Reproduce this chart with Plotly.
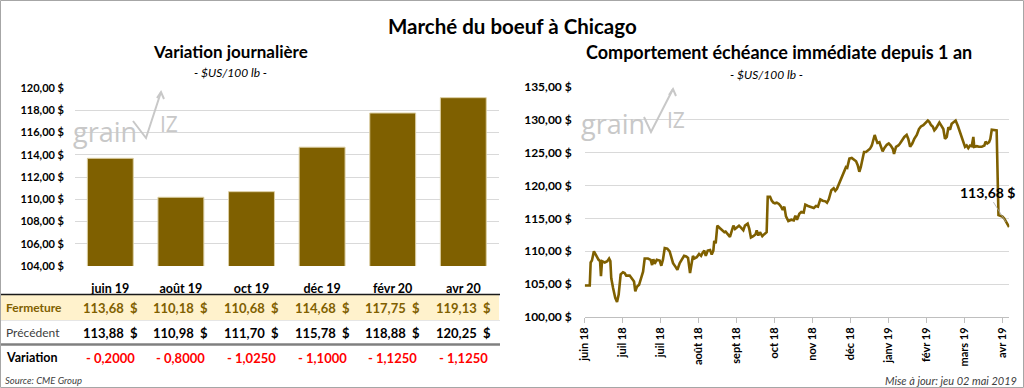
import plotly.graph_objects as go

W, H = 1024, 388
FONT = "Lato"
GOLD = "#7F6000"

# ---------------- data: left chart / table ----------------
months = ["juin 19", "août 19", "oct 19", "déc 19", "févr 20", "avr 20"]
fermeture = [113.68, 110.18, 110.68, 114.68, 117.75, 119.13]
precedent = [113.88, 110.98, 111.70, 115.78, 118.88, 120.25]
variation = [-0.2000, -0.8000, -1.0250, -1.1000, -1.1250, -1.1250]
left_yticks = [104, 106, 108, 110, 112, 114, 116, 118, 120]

# ---------------- data: right chart (trading-day index, price) ----------------
session = [0, 2.8, 3.3, 4.0, 5.1, 6.4, 7.7, 8.5, 9.0, 9.6, 11.1, 12.5, 13.5, 14.2, 14.7, 15.7,
           16.9, 17.9, 18.8, 19.9, 21.2, 22.1, 23.0, 24.9, 26.2, 27.3, 28.0, 28.9, 30.1, 31.3,
           32.3, 33.2, 35.0, 36.5, 37.3, 38.0, 38.7, 39.9, 41.5, 42.4, 43.3, 44.3, 45.7, 47.0,
           47.9, 48.9, 50.1, 51.3, 52.6, 53.9, 55.0, 56.2, 57.2, 58.3, 59.4, 59.9, 60.7, 62.0,
           63.3, 64.4, 65.3, 66.2, 67.0, 68.1, 69.4, 70.3, 71.2, 71.7, 72.5, 73.4, 74.9, 76.2,
           77.3, 78.0, 79.2, 80.4, 81.4, 82.3, 83.2, 84.3, 85.4, 86.5, 87.8, 88.7, 90.2, 91.1,
           92.0, 93.3, 94.6, 95.2, 96.1, 97.0, 98.3, 99.4, 100.7, 101.3, 102.6, 103.5, 104.4,
           105.3, 106.3, 107.5, 108.7, 109.6, 110.5, 111.4, 112.7, 114.4, 115.7, 116.6, 117.5,
           118.8, 119.9, 121.2, 122.1, 123.6, 124.9, 126.8, 128.0, 129.1, 130.4, 131.7, 133.2,
           134.1, 135.1, 136.5, 137.8, 138.7, 139.6, 140.9, 142.2, 143.5, 144.6, 145.3, 146.5,
           147.8, 149.1, 150.2, 151.1, 152.0, 152.8, 153.9, 154.6, 155.7, 157.0, 157.9, 158.9,
           159.7, 160.5, 161.2, 162.0, 163.1, 164.0, 164.9, 165.8, 167.2, 168.3, 169.4, 170.5,
           171.2, 172.3, 173.6, 174.5, 175.8, 176.9, 178.2, 179.1, 180.1, 181.3, 182.4, 183.8,
           185.0, 186.1, 187.4, 188.7, 189.9, 190.7, 191.7, 192.6, 193.5, 194.4, 195.4, 196.3,
           197.2, 198.5, 199.4, 200.4, 201.3, 202.2, 203.1, 204.2, 205.3, 206.5, 207.7, 208.7,
           209.6, 210.5, 211.4, 212.3, 213.3, 214.2, 215.1, 215.6, 217.0, 218.2, 219.7, 221.2,
           221.9, 222.8, 223.8, 224.5, 225.3, 226.7, 228.0, 229.0, 231.1, 232.2, 233.6, 234.9]
price = [104.8, 104.8, 108.3, 108.6, 110.0, 109.3, 108.7, 108.5, 106.2, 108.5, 108.3, 108.5, 108.9,
         108.5, 105.9, 104.4, 102.9, 102.3, 103.4, 106.5, 106.8, 106.7, 106.3, 106.3, 105.9,
         105.4, 103.9, 104.6, 104.9, 105.9, 106.9, 108.9, 108.9, 108.7, 107.9, 108.8, 108.1,
         108.7, 108.6, 107.8, 108.7, 110.5, 110.4, 110.0, 109.2, 108.2, 107.7, 107.2, 108.2,
         108.7, 109.3, 109.2, 109.0, 106.7, 108.6, 109.3, 108.9, 109.1, 109.6, 109.3, 109.8,
         110.1, 109.3, 110.1, 110.2, 109.5, 110.1, 111.6, 111.2, 113.9, 113.5, 113.2, 112.9,
         113.0, 112.6, 112.2, 113.1, 113.9, 113.4, 113.7, 113.9, 113.6, 113.2, 113.9, 114.2,
         113.4, 112.1, 112.3, 112.6, 113.2, 112.4, 112.9, 112.3, 112.6, 112.9, 118.3, 118.3,
         117.7, 117.4, 117.3, 117.4, 117.2, 116.8, 116.3, 116.8, 115.3, 114.6, 114.8, 114.7,
         115.4, 114.8, 115.7, 116.0, 115.9, 117.1, 116.9, 116.8, 116.6, 116.9, 116.8, 117.9,
         117.7, 117.6, 117.4, 117.9, 119.3, 119.6, 119.2, 119.5, 120.4, 121.3, 122.3, 122.8,
         122.7, 124.1, 124.2, 124.0, 123.7, 123.1, 122.1, 122.8, 124.2, 125.1, 125.1, 125.4,
         125.6, 126.1, 127.1, 127.7, 127.1, 126.5, 126.6, 125.9, 125.2, 125.7, 126.2, 126.4,
         126.1, 125.6, 124.8, 125.9, 126.1, 126.4, 126.9, 127.4, 127.7, 127.1, 125.9, 126.4,
         127.1, 127.7, 128.6, 129.0, 129.2, 129.6, 129.9, 129.7, 129.2, 129.0, 128.4, 128.7,
         129.2, 129.6, 129.2, 128.6, 127.1, 127.4, 128.9, 128.5, 129.4, 129.7, 129.9, 129.1,
         128.1, 127.2, 126.4, 125.9, 126.1, 125.7, 126.1, 126.0, 127.4, 125.9, 126.0, 125.9,
         125.9, 126.1, 126.7, 126.4, 126.6, 127.1, 128.5, 128.5, 128.4, 115.5, 115.3, 115.0,
         114.4, 113.68]
x_tick_labels = ["juin 18", "juil 18", "juil 18", "août 18", "sept 18", "oct 18",
                 "nov 18", "déc 18", "janv 19", "févr 19", "mars 19", "avr 19"]
x_tick_step = 21
right_yticks = [100, 105, 110, 115, 120, 125, 130, 135]


def px(x):
    return x / W


def py(y):
    return 1 - y / H


def money(v):
    return f"{v:.2f}".replace(".", ",") + " $"


def money_tbl(v):
    return f"{v:.2f}".replace(".", ",") + "\u00a0\u00a0$"


def var_fmt(v):
    sign = "- " if v < 0 else "+ "
    return sign + f"{abs(v):.4f}".replace(".", ",")


fig = go.Figure()

fig.add_trace(go.Bar(
    x=months, y=fermeture, xaxis="x", yaxis="y",
    marker=dict(color=GOLD, line=dict(color="#dccfa3", width=1)),
    hoverinfo="skip", showlegend=False))

fig.add_trace(go.Scatter(
    x=session, y=price, xaxis="x2", yaxis="y2", mode="lines",
    line=dict(color=GOLD, width=2.6), hoverinfo="skip", showlegend=False))

ann = []
shapes = []


def text(x, y, s, size, bold=False, italic=False, color="black", xanchor="center",
         xref="paper", yref="paper", family=FONT):
    ann.append(dict(x=x, y=y, xref=xref, yref=yref, text=s, showarrow=False,
                    xanchor=xanchor, yanchor="middle",
                    font=dict(family=family, size=size, color=color,
                              weight="bold" if bold else "normal",
                              style="italic" if italic else "normal")))


# titles
text(px(512), py(26), "Marché du boeuf à Chicago", 20.5, bold=True)
text(px(230), py(52), "Variation journalière", 17, bold=True)
text(px(230), py(72), "- $US/100 lb -", 12, italic=True)
text(px(779), py(52), "Comportement échéance immédiate depuis 1 an", 18, bold=True)
text(px(766), py(74), "- $US/100 lb -", 12, italic=True)

# table
shapes.append(dict(type="rect", xref="paper", yref="paper", x0=px(1), x1=px(499),
                   y0=py(320), y1=py(295), fillcolor="#FFF2CC", line=dict(width=0), layer="below"))
shapes.append(dict(type="line", xref="paper", yref="paper", x0=px(1), x1=px(500),
                   y0=py(294.5), y1=py(294.5), line=dict(color="#1a1a1a", width=1.5)))
shapes.append(dict(type="line", xref="paper", yref="paper", x0=px(1), x1=px(500),
                   y0=py(320.5), y1=py(320.5), line=dict(color="#e6e6e6", width=1)))
shapes.append(dict(type="line", xref="paper", yref="paper", x0=px(1), x1=px(500),
                   y0=py(344.5), y1=py(344.5), line=dict(color="#808080", width=2.5)))

text(px(4), py(307.5), "Fermeture", 12, bold=True, color=GOLD, xanchor="left")
text(px(4), py(332.5), "Précédent", 12, color="#404040", xanchor="left")
text(px(4), py(357.5), "Variation", 12.5, bold=True, xanchor="left")
for m, f, p, v in zip(months, fermeture, precedent, variation):
    text(m, py(307.5), money_tbl(f), 13, bold=True, color=GOLD, xref="x")
    text(m, py(332.5), money_tbl(p), 13, bold=True, xref="x")
    text(m, py(357.5), var_fmt(v), 13, bold=True, color="#FF0000", xref="x")

text(px(3), py(380), "Source: CME Group", 9.5, italic=True, color="#404040", xanchor="left")
text(px(1019), py(380), "Mise à jour: jeu 02 mai 2019", 11, italic=True, color="#404040",
     xanchor="right")

# last value label
ann.append(dict(x=session[-1], y=price[-1], xref="x2", yref="y2", text=money(price[-1]),
                showarrow=True, arrowhead=0, arrowwidth=0.8, arrowcolor="#a6a6a6",
                ax=-22, ay=-35, standoff=6,
                font=dict(family=FONT, size=14, color="black", weight="bold")))

# grainwiz watermark logos
LOGO = "#c8c8c8"
for (gx, gy, vpts, ix, iy) in [
    (71, 131, [(133, 121), (146, 138), (161, 92)], 158, 124),
    (579, 124, [(644, 117), (651, 132), (673, 89)], 665, 120),
]:
    ann.append(dict(x=px(gx), y=py(gy), xref="paper", yref="paper", text="grain",
                    showarrow=False, xanchor="left", yanchor="middle",
                    font=dict(family="Open Sans", size=27, color=LOGO)))
    ann.append(dict(x=px(ix), y=py(iy), xref="paper", yref="paper", text="IZ",
                    showarrow=False, xanchor="left", yanchor="middle",
                    font=dict(family="Open Sans", size=21, color=LOGO)))
    path = "M {} {} L {} {} L {} {}".format(
        px(vpts[0][0]), py(vpts[0][1]), px(vpts[1][0]), py(vpts[1][1]),
        px(vpts[2][0]), py(vpts[2][1]))
    shapes.append(dict(type="path", xref="paper", yref="paper", path=path,
                       line=dict(color=LOGO, width=2)))
    tx, ty = vpts[2]
    head = "M {} {} L {} {} L {} {}".format(px(tx - 4), py(ty + 6), px(tx), py(ty),
                                          px(tx + 3), py(ty + 7))
    shapes.append(dict(type="path", xref="paper", yref="paper", path=head,
                       line=dict(color=LOGO, width=2)))

# outer border
shapes.append(dict(type="rect", xref="paper", yref="paper", x0=px(0.5), x1=px(1023.5),
                   y0=py(387.5), y1=py(0.5), line=dict(color="#a6a6a6", width=1)))

tickfont = dict(family=FONT, size=11, color="black", weight="bold")

fig.update_layout(
    template="none",
    width=W, height=H, margin=dict(l=0, r=0, t=0, b=0, pad=0, autoexpand=False),
    paper_bgcolor="white", plot_bgcolor="white",
    bargap=0.35, showlegend=False,
    annotations=ann, shapes=shapes,
    xaxis=dict(domain=[px(75), px(498.6)], type="category", showgrid=False, automargin=False,
               showline=False, zeroline=False, ticks="", tickfont=dict(family=FONT, size=12.5,
                                                                     color="black", weight="bold"),
               ticklabelstandoff=13, anchor="y"),
    yaxis=dict(domain=[py(266), py(88)], range=[104, 120], tickvals=left_yticks,
               ticktext=[money(v) for v in left_yticks], gridcolor="#d9d9d9", gridwidth=1,
               showline=False, zeroline=False, tickfont=tickfont, ticklabelstandoff=10,
               ticks="", automargin=False, anchor="x"),
    xaxis2=dict(domain=[px(584.7), px(1009.3)], range=[0, 235],
                tickvals=[i * x_tick_step for i in range(len(x_tick_labels))],
                ticktext=x_tick_labels, tickangle=-90, ticks="outside", ticklen=5,
                tickcolor="#bfbfbf", showline=True, linecolor="#bfbfbf", linewidth=1,
                showgrid=False, zeroline=False, tickfont=tickfont, automargin=False,
                anchor="y2"),
    yaxis2=dict(domain=[py(317), py(87)], range=[100, 135], tickvals=right_yticks,
                ticktext=[money(v) for v in right_yticks], gridcolor="#d9d9d9", gridwidth=1,
                showline=False, zeroline=False, tickfont=dict(family=FONT, size=12, color="black",
                                                               weight="bold"),
                ticks="", ticklabelstandoff=12, automargin=False, anchor="x2"),
)

fig.write_html(
    "out.html",
    config={"displayModeBar": False, "staticPlot": True},
    post_script="document.body.style.margin='0';document.body.style.overflow='hidden';",
)
